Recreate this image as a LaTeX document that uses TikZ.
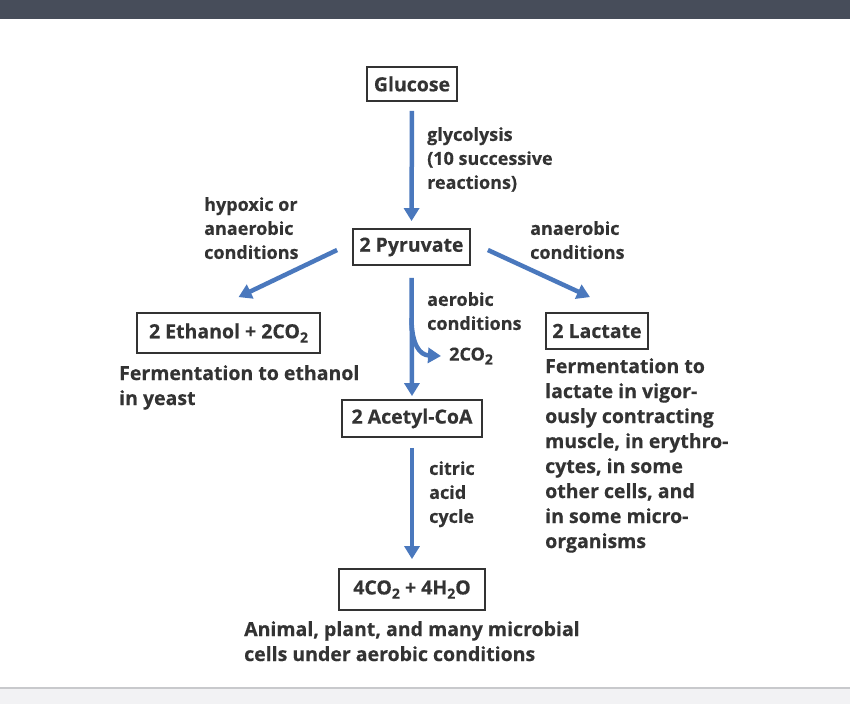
\documentclass[tikz,border=0pt]{standalone}
\usepackage{fontspec}
\setmainfont{Open Sans}[BoldFeatures={FakeBold=0.4}]
\usetikzlibrary{arrows.meta}
\definecolor{txt}{HTML}{333333}
\definecolor{flowc}{HTML}{4A78BD}
\definecolor{topbar}{HTML}{474D5A}
\definecolor{botbar}{HTML}{F2F2F4}
\definecolor{botline}{HTML}{C8C9CC}
\newcommand{\chsub}[1]{\raisebox{-0.4ex}{\fontsize{14}{14}\selectfont #1}}
\tikzset{
  box/.style={draw=txt, line width=1.8pt, text=txt, inner sep=0pt, font=\bfseries\fontsize{19.5}{22}\selectfont},
  lbl/.style={text=txt, inner sep=0pt, align=left, anchor=north west, font=\bfseries\fontsize{18}{24}\selectfont},
  big/.style={text=txt, inner sep=0pt, align=left, anchor=north west, font=\bfseries\fontsize{19.5}{25}\selectfont},
  flow/.style={draw=flowc, line width=4.5pt, -{Triangle[width=15pt,length=13pt]}}
}
\begin{document}
\begin{tikzpicture}[x=1pt,y=-1pt]
\useasboundingbox (0,0) rectangle (850,704);
\fill[topbar] (0,0) rectangle (850,19);
\fill[botbar] (0,688) rectangle (850,704);
\draw[botline, line width=1.5pt] (0,688) -- (850,688);

\node[box, minimum width=90pt, minimum height=34pt] (glu) at (412,84) {Glucose};
\node[box, minimum width=117pt, minimum height=36pt] (pyr) at (411.5,247) {2 Pyruvate};
\node[box, minimum width=183pt, minimum height=40pt] (eth) at (228.5,333) {2 Ethanol + 2CO\chsub{2}};
\node[box, minimum width=102pt, minimum height=36pt] (lac) at (597,331) {2 Lactate};
\node[box, minimum width=140pt, minimum height=37pt] (acc) at (412,418.5) {2 Acetyl-CoA};
\node[box, minimum width=146pt, minimum height=41pt] (fin) at (412,589.5) {4CO\chsub{2} + 4H\chsub{2}O};

\node[lbl] (lglyc) at (427,127) {glycolysis\\(10 successive\\reactions)};
\node[lbl] (lhyp) at (204,197) {hypoxic or\\anaerobic\\conditions};
\node[lbl] (lana) at (530,221) {anaerobic\\conditions};
\node[lbl] (laer) at (427,292) {aerobic\\conditions};
\node[lbl] (lcit) at (429,461) {citric\\acid\\cycle};
\node[text=txt, inner sep=0pt, anchor=west, font=\bfseries\fontsize{18}{20}\selectfont] (lco) at (449,356) {2CO\chsub{2}};

\node[big] (teth) at (119,365) {Fermentation to ethanol\\in yeast};
\node[big] (tlac) at (545,358) {Fermentation to\\lactate in vigor-\\ously contracting\\muscle, in erythro-\\cytes, in some\\other cells, and\\in some micro-\\organisms};
\node[big] (tfin) at (244,621) {Animal, plant, and many microbial\\cells under aerobic conditions};

\draw[flow, shorten <=9pt, shorten >=7pt] (glu.south) -- (pyr.north);
\draw[flow] ([xshift=-15pt,yshift=-3pt]pyr.west) -- ([xshift=10pt,yshift=15pt]eth.north);
\draw[flow] ([xshift=17pt,yshift=-3pt]pyr.east) -- ([xshift=-7pt,yshift=15pt]lac.north);
\draw[flow, shorten <=12pt, shorten >=3pt] (pyr.south) -- (acc.north);
\coordinate (branch) at (411.5,318);
\draw[flow] (branch) .. controls (411.5,345) and (420,355) .. ([xshift=-8pt]lco.west);
\draw[flow, shorten <=10pt, shorten >=9pt] (acc.south) -- (fin.north);
\end{tikzpicture}
\end{document}
